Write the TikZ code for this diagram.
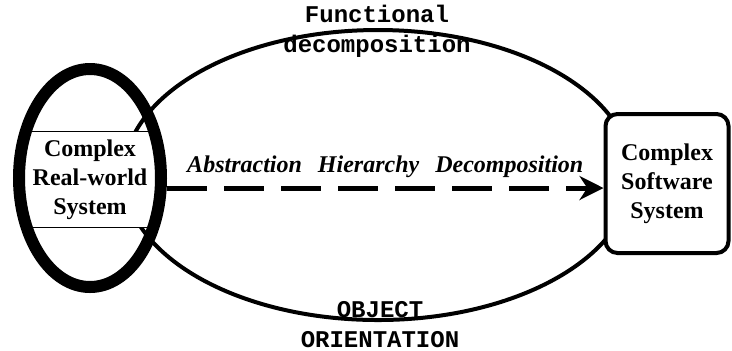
\documentclass[tikz,border=0pt]{standalone}
\usepackage{fontspec}
\setmainfont{Liberation Serif}
\newfontfamily\codefont{Liberation Mono}
\usetikzlibrary{shapes.geometric,arrows.meta}

\tikzset{
  system/.style={font=\fontsize{12}{14.5}\selectfont\bfseries, align=center},
  approach/.style={font=\codefont\fontsize{12}{15}\selectfont\bfseries, align=center},
  flow/.style={line width=2.5pt, dash pattern=on 20pt off 8.5pt, -{Stealth[length=12pt,width=12pt]}},
}

\begin{document}
\begin{tikzpicture}[x=0.5pt,y=-0.5pt]
\useasboundingbox (0,0) rectangle (732,350);
% the two ways of getting there
\draw[line width=2pt] (378,175) ellipse [x radius=127pt, y radius=72.5pt];
\node[approach] (func) at (377,31.5) {Functional\\decomposition};
\node[approach] (oo) at (380,325) {OBJECT\\ORIENTATION};
% real world
\node[system, fill=white, minimum width=65pt, minimum height=47.5pt, inner sep=0pt] (realtext) at (90,179.5) {Complex\\Real-world\\System};
\draw[line width=0.5pt] (realtext.north west) -- (realtext.north east) (realtext.south west) -- (realtext.south east);
\node[ellipse, draw, line width=6pt, minimum width=71pt, minimum height=109pt] (real) at (90,178) {};
% software
\node[system, draw, fill=white, rounded corners=6pt, line width=2pt, minimum width=61.5pt, minimum height=69.5pt] (soft) at (667,183.5) {Complex\\Software\\System};
\coordinate (lane) at (0,188);
\draw[flow] (real.east |- lane) -- (soft.west |- lane) node[midway, anchor=base, yshift=8pt, font=\fontsize{12}{14.5}\selectfont\bfseries\itshape] {Abstraction\hspace{8pt}Hierarchy\hspace{8pt}Decomposition};
\end{tikzpicture}
\end{document}
